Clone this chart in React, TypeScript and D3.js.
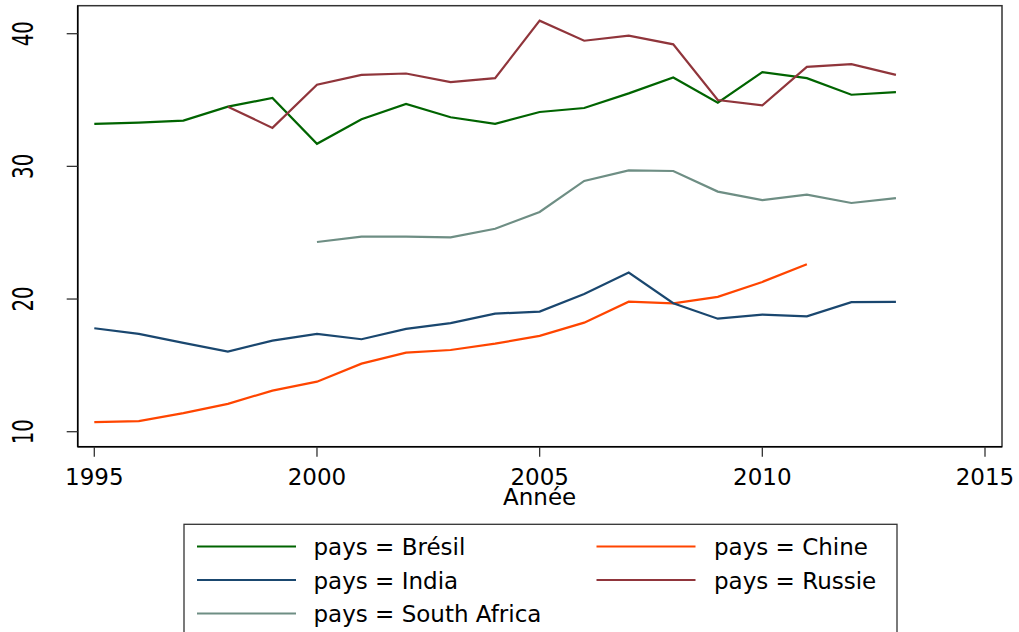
import React from "react";
import * as d3 from "d3";

const years = [1995, 1996, 1997, 1998, 1999, 2000, 2001, 2002, 2003, 2004, 2005, 2006, 2007, 2008, 2009, 2010, 2011, 2012, 2013];

const bresil = [33.2, 33.3, 33.45, 34.5, 35.15, 31.7, 33.55, 34.7, 33.7, 33.2, 34.1, 34.4, 35.5, 36.7, 34.8, 37.1, 36.65, 35.4, 35.6];
const chine = [10.72, 10.8, 11.4, 12.1, 13.1, 13.77, 15.13, 15.96, 16.16, 16.64, 17.22, 18.22, 19.8, 19.68, 20.16, 21.29, 22.62, null, null];
const india = [17.8, 17.37, 16.7, 16.04, 16.87, 17.37, 16.97, 17.75, 18.18, 18.9, 19.05, 20.38, 21.99, 19.68, 18.52, 18.83, 18.7, 19.76, 19.78];
const russie = [null, null, null, 34.5, 32.9, 36.15, 36.9, 37.0, 36.35, 36.65, 40.98, 39.47, 39.85, 39.2, 35.0, 34.6, 37.5, 37.7, 36.9];
const southAfrica = [null, null, null, null, null, 24.3, 24.7, 24.7, 24.65, 25.3, 26.56, 28.9, 29.7, 29.65, 28.1, 27.45, 27.87, 27.24, 27.6];

const xTicks = [1995, 2000, 2005, 2010, 2015];
const yTicks = [10, 20, 30, 40];

const series = [
  { name: "pays = Brésil", values: bresil, color: "#006400" },
  { name: "pays = Chine", values: chine, color: "#ff4500" },
  { name: "pays = India", values: india, color: "#1a476f" },
  { name: "pays = Russie", values: russie, color: "#90353b" },
  { name: "pays = South Africa", values: southAfrica, color: "#6e8e84" },
];

const FONT = "'DejaVu Sans', Verdana, sans-serif";

export default function App() {
  const x = d3.scaleLinear().domain([1995, 2015]).range([94.3, 985]);
  const y = d3.scaleLinear().domain([10, 40]).range([431.7, 33.7]);
  const left = 77.7, right = 1002, top = 5.7, bottom = 446.7;

  const line = d3
    .line<[number, number | null]>()
    .defined((d) => d[1] != null)
    .x((d) => x(d[0]))
    .y((d) => y(d[1] as number));

  const legendPos = [
    { lx: 197, tx: 313.5, ly: 546.5 },
    { lx: 596.5, tx: 714, ly: 546.5 },
    { lx: 197, tx: 313.5, ly: 580 },
    { lx: 596.5, tx: 714, ly: 580 },
    { lx: 197, tx: 313.5, ly: 613.5 },
  ];

  return (
    <svg
      width={1019}
      height={632}
      style={{ position: "absolute", left: 0, top: 0, background: "#fff" }}
    >
      <rect x={0} y={0} width={1019} height={632} fill="#fff" />
      <rect x={left} y={top} width={right - left} height={bottom - top} fill="none" stroke="#333" strokeWidth={1.5} />
      <line x1={left} x2={left} y1={top} y2={bottom} stroke="#000" strokeWidth={1.5} />
      <line x1={left} x2={right} y1={bottom} y2={bottom} stroke="#000" strokeWidth={1.5} />

      {yTicks.map((t) => (
        <g key={"y" + t}>
          <line x1={left - 11} x2={left} y1={y(t)} y2={y(t)} stroke="#333" strokeWidth={1.3} />
          <text
            transform={`translate(32.7,${y(t)}) rotate(-90) scale(0.86,1.2)`}
            textAnchor="middle"
            fontFamily={FONT}
            fontSize={23}
            fill="#000"
          >
            {t}
          </text>
        </g>
      ))}

      {xTicks.map((t) => (
        <g key={"x" + t}>
          <line x1={x(t)} x2={x(t)} y1={bottom} y2={bottom + 10} stroke="#333" strokeWidth={1.3} />
          <text x={x(t)} y={485} textAnchor="middle" fontFamily={FONT} fontSize={23} fill="#000">
            {t}
          </text>
        </g>
      ))}
      <text x={x(2005)} y={505} textAnchor="middle" fontFamily={FONT} fontSize={23} fill="#000">
        Année
      </text>

      {series.map((s) => (
        <path
          key={s.name}
          d={line(years.map((yr, i) => [yr, s.values[i]] as [number, number | null])) || ""}
          fill="none"
          stroke={s.color}
          strokeWidth={2.2}
          strokeLinejoin="miter"
        />
      ))}

      <rect x={184} y={524.3} width={713} height={120} fill="#fff" stroke="#333" strokeWidth={1.3} />
      {series.map((s, i) => {
        const p = legendPos[i];
        return (
          <g key={"lg" + s.name}>
            <line x1={p.lx} x2={p.lx + 99} y1={p.ly} y2={p.ly} stroke={s.color} strokeWidth={2.2} />
            <text x={p.tx} y={p.ly + 8.5} fontFamily={FONT} fontSize={23} fill="#000">
              {s.name}
            </text>
          </g>
        );
      })}
    </svg>
  );
}
